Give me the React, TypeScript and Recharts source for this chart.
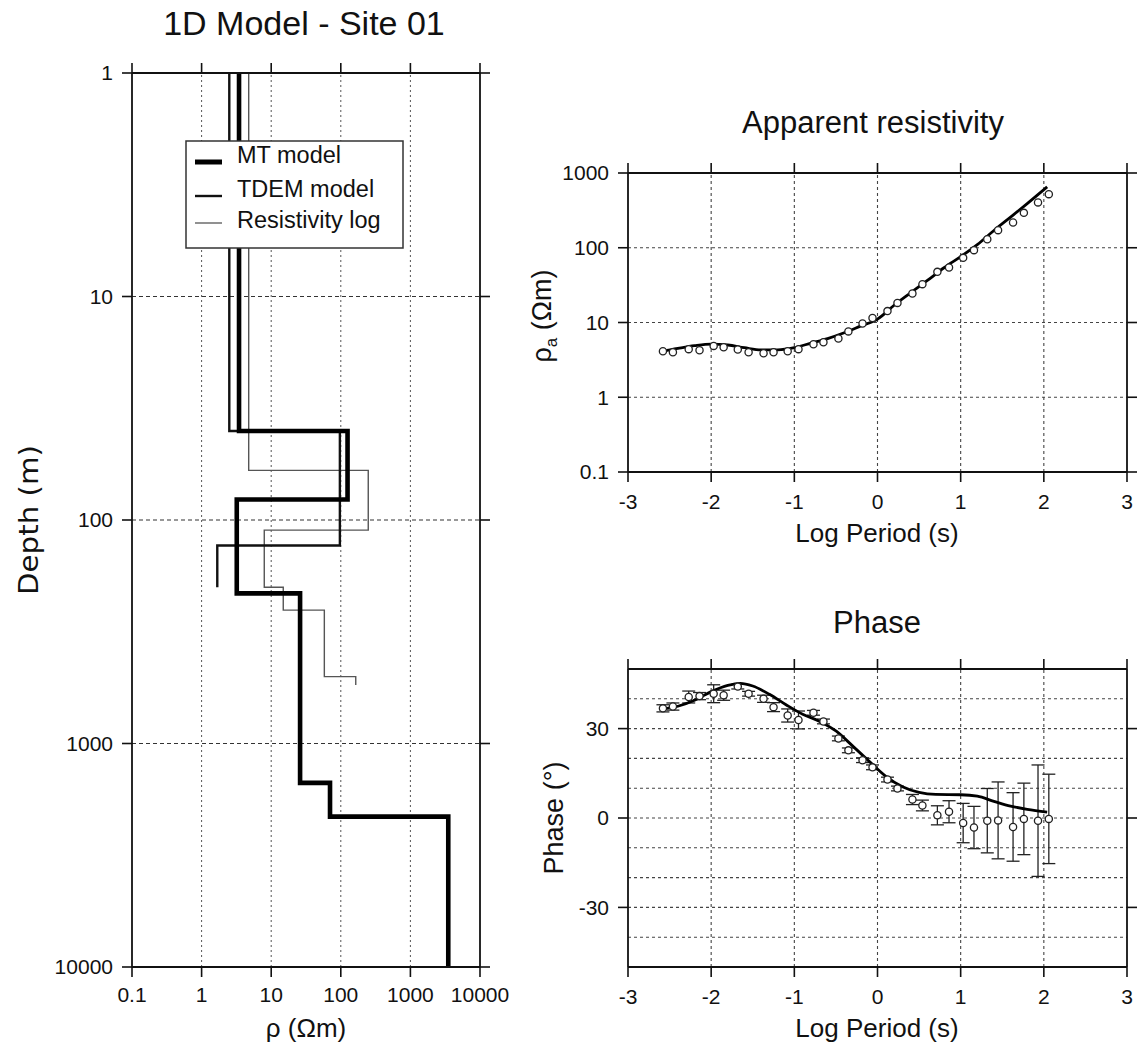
import React from 'react';
import { ComposedChart, Line, Scatter, XAxis, YAxis, ReferenceLine, ErrorBar } from 'recharts';

const FONT = '"Liberation Sans", Arial, Helvetica, sans-serif';
const NARROW = '"Liberation Sans Narrow", "DejaVu Sans Condensed", "Liberation Sans", sans-serif';

// ---------- Left panel: 1D layered models ----------
const topDepth = 1;
const mtResistivity = [3.45, 125, 3.2, 26, 70, 3500];
const mtInterfaceDepths = [40, 81, 213, 1500, 2125];
const mtBottomDepth = 10000;

const tdemResistivity = [2.5, 97, 1.68];
const tdemInterfaceDepths = [40, 130];
const tdemBottomDepth = 200;

const logResistivity = [4.75, 248, 7.95, 14.9, 58, 164];
const logInterfaceDepths = [60, 111, 200, 253, 502];
const logBottomDepth = 547;

const rhoTicks = [0.1, 1, 10, 100, 1000, 10000];
const depthTicks = [1, 10, 100, 1000, 10000];
const rhoGrid = [1, 10, 100, 1000];
const depthGrid = [10, 100, 1000];

// ---------- Right panels: MT sounding ----------
const obsLogPeriod = [-2.58, -2.46, -2.27, -2.14, -1.97, -1.85, -1.68, -1.55, -1.37, -1.25, -1.08, -0.95, -0.77, -0.65, -0.47, -0.35, -0.18, -0.06, 0.12, 0.24, 0.42, 0.54, 0.72, 0.86, 1.03, 1.16, 1.32, 1.45, 1.63, 1.76, 1.93, 2.06];
const obsAppRes = [4.13, 4.0, 4.4, 4.26, 4.86, 4.67, 4.35, 4.0, 3.88, 4.0, 4.13, 4.4, 5.12, 5.44, 6.1, 7.6, 9.7, 11.5, 14.2, 18.3, 24.4, 32.6, 47.6, 54.4, 73.3, 92.9, 130, 172, 218, 293, 404, 521];
const obsPhase = [36.8, 37.4, 40.6, 40.9, 41.7, 41.2, 44.1, 41.7, 40.0, 37.2, 34.4, 32.9, 35.3, 32.4, 26.7, 22.7, 19.4, 17.0, 12.9, 9.9, 6.2, 4.2, 0.9, 2.1, -1.7, -3.2, -0.9, -0.8, -3.0, -0.3, -0.9, -0.3];
const obsPhaseErr = [1.2, 1.2, 2, 1.2, 3, 1.7, 0.8, 0.8, 1.2, 1.5, 2.2, 3, 0.8, 0.8, 0.8, 0.8, 0.8, 0.8, 0.8, 0.8, 1.7, 1.8, 3.2, 3.7, 6.6, 7.1, 10.8, 12.9, 11.5, 12, 18.7, 15];

const modelResLogPeriod = [-2.62, -2.4, -2.2, -2.0, -1.8, -1.6, -1.4, -1.2, -1.0, -0.8, -0.6, -0.4, -0.2, 0.0, 0.2, 0.4, 0.6, 0.8, 1.0, 1.2, 1.4, 1.6, 1.8, 2.04];
const modelAppRes = [4.05, 4.5, 4.9, 5.15, 5.0, 4.6, 4.3, 4.3, 4.6, 5.3, 6.1, 7.3, 9.0, 11.1, 17, 25, 36.5, 54, 76, 110, 170, 257, 390, 653];

const modelPhaseLogPeriod = [-2.62, -2.4, -2.2, -2.0, -1.8, -1.65, -1.5, -1.3, -1.1, -0.9, -0.7, -0.5, -0.3, -0.1, 0.1, 0.3, 0.5, 0.7, 1.0, 1.2, 1.4, 1.6, 1.8, 2.04];
const modelPhase = [36.5, 37.5, 39.5, 42.4, 44.5, 45.2, 44.3, 41.5, 38, 34.8, 32.5, 29.2, 24.2, 19, 14, 10.5, 8.6, 7.9, 7.8, 7.3, 5.6, 4.0, 2.9, 2.0];

const periodTicks = [-3, -2, -1, 0, 1, 2, 3];
const periodGrid = [-2, -1, 0, 1, 2];
const appResTicks = [0.1, 1, 10, 100, 1000];
const appResGrid = [1, 10, 100];
const phaseTicks = [-30, 0, 30];
const phaseGrid = [-40, -30, -20, -10, 0, 10, 20, 30, 40];

function stepProfile(res: number[], interfaces: number[], top: number, bottom: number) {
  const bounds = [top, ...interfaces, bottom];
  const pts: { x: number; y: number }[] = [];
  res.forEach((r, i) => {
    pts.push({ x: r, y: bounds[i] });
    pts.push({ x: r, y: bounds[i + 1] });
  });
  return pts;
}

const mtData = stepProfile(mtResistivity, mtInterfaceDepths, topDepth, mtBottomDepth);
const tdemData = stepProfile(tdemResistivity, tdemInterfaceDepths, topDepth, tdemBottomDepth);
const logData = stepProfile(logResistivity, logInterfaceDepths, topDepth, logBottomDepth);

const appResObsData = obsLogPeriod.map((x, i) => ({ x, y: obsAppRes[i] }));
const phaseObsData = obsLogPeriod.map((x, i) => ({ x, y: obsPhase[i], err: obsPhaseErr[i] }));
const appResModelData = modelResLogPeriod.map((x, i) => ({ x, y: modelAppRes[i] }));
const phaseModelData = modelPhaseLogPeriod.map((x, i) => ({ x, y: modelPhase[i] }));

const AX = '#111';
const tickStyle = { fontSize: 21, fill: '#111', fontFamily: FONT };
const noLabel = () => <g />;
const axisCommon = {
  stroke: AX,
  tickSize: 10,
  axisLine: { stroke: AX, strokeWidth: 1.8 },
  tickLine: { stroke: AX, strokeWidth: 1.6 },
  interval: 0 as const,
  allowDataOverflow: true,
  type: 'number' as const,
};

const circle = (props: any) => (
  <circle cx={props.cx} cy={props.cy} r={3.6} fill="#fff" stroke="#222" strokeWidth={1.3} />
);

function ModelPanel() {
  return (
    <ComposedChart width={560} height={1048} margin={{ top: 63, right: 70, bottom: 21, left: 12 }}>
      {rhoGrid.map((v) => (
        <ReferenceLine key={'vx' + v} x={v} stroke="#555" strokeWidth={1} strokeDasharray="2 3" />
      ))}
      {depthGrid.map((v) => (
        <ReferenceLine key={'hy' + v} y={v} stroke="#333" strokeWidth={1.2} strokeDasharray="4 3" />
      ))}
      <XAxis {...axisCommon} dataKey="x" scale="log" domain={[0.1, 10000]} ticks={rhoTicks}
        height={60} tickMargin={10} tick={tickStyle} />
      <XAxis {...axisCommon} xAxisId="top" orientation="top" dataKey="x" scale="log" domain={[0.1, 10000]}
        ticks={rhoTicks} height={10} tick={noLabel} />
      <YAxis {...axisCommon} dataKey="y" scale="log" domain={[1, 10000]} reversed ticks={depthTicks}
        width={120} tickMargin={9} tick={tickStyle} />
      <YAxis {...axisCommon} yAxisId="right" orientation="right" dataKey="y" scale="log" domain={[1, 10000]} reversed
        ticks={depthTicks} width={10} tick={noLabel} />
      <Line data={logData} dataKey="y" type="linear" stroke="#555" strokeWidth={1.4} dot={false} activeDot={false} isAnimationActive={false} />
      <Line data={tdemData} dataKey="y" type="linear" stroke="#111" strokeWidth={2.4} dot={false} activeDot={false} isAnimationActive={false} />
      <Line data={mtData} dataKey="y" type="linear" stroke="#000" strokeWidth={4.6} dot={false} activeDot={false} isAnimationActive={false} />
    </ComposedChart>
  );
}

function AppResPanel() {
  return (
    <ComposedChart width={600} height={460} margin={{ top: 63, right: 3, bottom: 28, left: 8 }}>
      {periodGrid.map((v) => (
        <ReferenceLine key={'vx' + v} x={v} stroke="#444" strokeWidth={1.1} strokeDasharray="3 3" />
      ))}
      {appResGrid.map((v) => (
        <ReferenceLine key={'hy' + v} y={v} stroke="#444" strokeWidth={1.1} strokeDasharray="3 3" />
      ))}
      <XAxis {...axisCommon} dataKey="x" domain={[-3, 3]} ticks={periodTicks} height={60}
        tickMargin={12} tick={tickStyle} />
      <XAxis {...axisCommon} xAxisId="top" orientation="top" dataKey="x" domain={[-3, 3]} ticks={periodTicks}
        height={10} tick={noLabel} />
      <YAxis {...axisCommon} dataKey="y" scale="log" domain={[0.1, 1000]} ticks={appResTicks} width={80}
        tickMargin={9} tick={tickStyle} />
      <YAxis {...axisCommon} yAxisId="right" orientation="right" dataKey="y" scale="log" domain={[0.1, 1000]}
        ticks={appResTicks} width={10} tick={noLabel} />
      <Scatter data={appResObsData} dataKey="y" shape={circle} isAnimationActive={false} />
      <Line data={appResModelData} dataKey="y" type="monotone" stroke="#000" strokeWidth={2.8} dot={false} activeDot={false} isAnimationActive={false} />
    </ComposedChart>
  );
}

function PhasePanel() {
  return (
    <ComposedChart width={600} height={452} margin={{ top: 63, right: 3, bottom: 21, left: 8 }}>
      {periodGrid.map((v) => (
        <ReferenceLine key={'vx' + v} x={v} stroke="#444" strokeWidth={1.1} strokeDasharray="3 3" />
      ))}
      {phaseGrid.map((v) => (
        <ReferenceLine key={'hy' + v} y={v} stroke="#444" strokeWidth={1.1} strokeDasharray="3 3" />
      ))}
      <XAxis {...axisCommon} dataKey="x" domain={[-3, 3]} ticks={periodTicks} height={60}
        tickMargin={12} tick={tickStyle} />
      <XAxis {...axisCommon} xAxisId="top" orientation="top" dataKey="x" domain={[-3, 3]} ticks={periodTicks}
        height={10} tick={noLabel} />
      <YAxis {...axisCommon} dataKey="y" domain={[-50, 50]} ticks={phaseTicks} width={80}
        tickMargin={9} tick={tickStyle} />
      <YAxis {...axisCommon} yAxisId="right" orientation="right" dataKey="y" domain={[-50, 50]}
        ticks={phaseTicks} width={10} tick={noLabel} />
      <Scatter data={phaseObsData} dataKey="y" shape={circle} isAnimationActive={false}>
        <ErrorBar dataKey="err" direction="y" width={6.5} stroke="#222" strokeWidth={1.3} />
      </Scatter>
      <Line data={phaseModelData} dataKey="y" type="monotone" stroke="#000" strokeWidth={2.8} dot={false} activeDot={false} isAnimationActive={false} />
    </ComposedChart>
  );
}

export default function App() {
  return (
    <div style={{ position: 'absolute', left: 0, top: 0, width: 1140, height: 1048, background: '#fff', fontFamily: FONT }}>
      <div style={{ position: 'absolute', left: 0, top: 0 }}>
        <ModelPanel />
      </div>
      <div style={{ position: 'absolute', left: 540, top: 100 }}>
        <AppResPanel />
      </div>
      <div style={{ position: 'absolute', left: 540, top: 596 }}>
        <PhasePanel />
      </div>
      <svg width={1140} height={1048} style={{ position: 'absolute', left: 0, top: 0, pointerEvents: 'none' }}
        fontFamily={FONT} fill="#111">
        <text x={304} y={35} fontSize={34} textAnchor="middle">1D Model - Site 01</text>
        <text transform="translate(38,520) rotate(-90)" fontSize={26} textAnchor="middle" fontFamily={NARROW}
          textLength={150} lengthAdjust="spacingAndGlyphs">Depth (m)</text>
        <text x={306} y={1037} fontSize={26} textAnchor="middle">ρ (Ωm)</text>

        <text x={873} y={133} fontSize={31} textAnchor="middle">Apparent resistivity</text>
        <text x={877} y={542} fontSize={26} textAnchor="middle">Log Period (s)</text>
        <text transform="translate(551,316) rotate(-90)" fontSize={27} textAnchor="middle">
          ρ<tspan fontSize={17} dy={6}>a</tspan><tspan dy={-6}> (Ωm)</tspan>
        </text>

        <text x={877} y={633} fontSize={31} textAnchor="middle">Phase</text>
        <text x={877} y={1037} fontSize={26} textAnchor="middle">Log Period (s)</text>
        <text transform="translate(563,818) rotate(-90)" fontSize={27} textAnchor="middle">Phase (°)</text>

        <rect x={186} y={141} width={217} height={107} fill="#fff" stroke="#333" strokeWidth={1.5} />
        <line x1={195} x2={222} y1={162} y2={162} stroke="#000" strokeWidth={5} />
        <line x1={195} x2={222} y1={196} y2={196} stroke="#111" strokeWidth={2.4} />
        <line x1={195} x2={222} y1={223} y2={223} stroke="#555" strokeWidth={1.3} />
        <text x={237} y={163} fontSize={23.5}>MT model</text>
        <text x={237} y={197} fontSize={23.5}>TDEM model</text>
        <text x={237} y={228} fontSize={23.5}>Resistivity log</text>
      </svg>
    </div>
  );
}
